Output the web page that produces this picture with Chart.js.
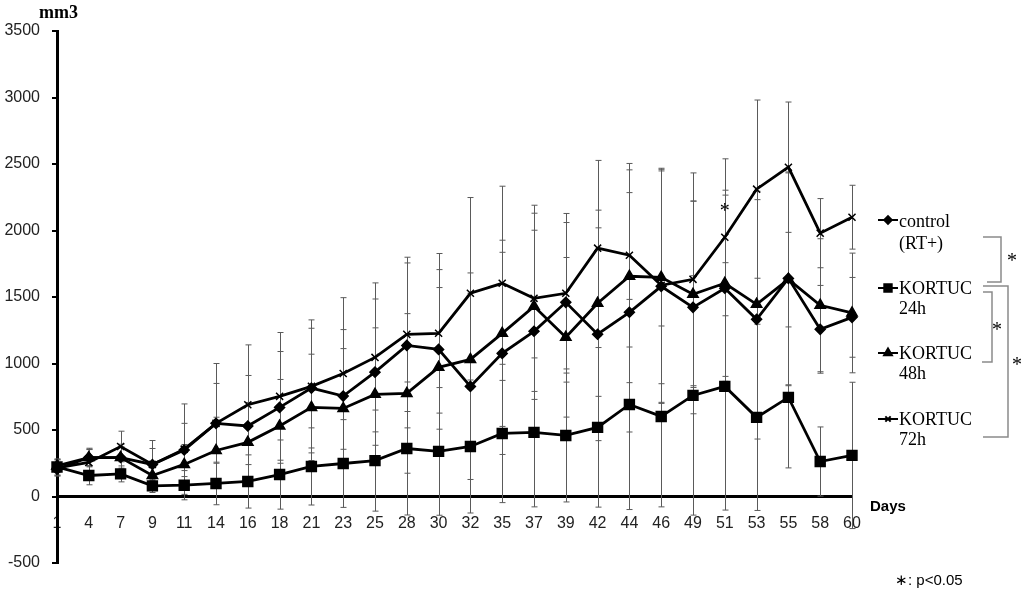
<!DOCTYPE html>
<html>
<head>
<meta charset="utf-8">
<script src="https://cdn.jsdelivr.net/npm/chart.js@4.4.1/dist/chart.umd.min.js"></script>
<style>
  html, body { margin: 0; padding: 0; background: #fff; }
  #wrap { width: 1024px; height: 592px; }
</style>
</head>
<body>
<div id="wrap"><canvas id="tumorChart"></canvas></div>
<script>
// days after treatment (category axis)
const days = ['1', '4', '7', '9', '11', '14', '16', '18', '21', '23', '25', '28', '30', '32', '35', '37', '39', '42', '44', '46', '49', '51', '53', '55', '58', '60'];

// mean tumour volume, mm3
const controlMean = [205, 293, 293, 241, 350, 550, 530, 670, 815, 755, 935, 1136, 1106, 828, 1076, 1242, 1460, 1220, 1385, 1580, 1422, 1566, 1332, 1640, 1257, 1347];
const k24Mean = [222, 158, 170, 80, 85, 98, 113, 165, 226, 248, 270, 361, 339, 376, 474, 482, 459, 520, 692, 602, 760, 828, 595, 745, 263, 309];
const k48Mean = [230, 293, 293, 158, 241, 346, 407, 530, 670, 662, 768, 775, 971, 1031, 1227, 1430, 1197, 1453, 1656, 1648, 1520, 1603, 1445, 1633, 1438, 1380];
const k72Mean = [215, 256, 376, 241, 356, 550, 690, 753, 828, 925, 1046, 1219, 1227, 1528, 1603, 1490, 1528, 1867, 1814, 1588, 1633, 1949, 2311, 2476, 1980, 2100];

// standard deviations (error bars)
const controlSd = [50, 70, 100, 120, 200, 300, 380, 420, 450, 500, 550, 620, 600, 700, 760, 760, 600, 800, 900, 880, 800, 700, 900, 800, 330, 300];
const k24Sd = [60, 70, 60, 50, 110, 160, 200, 260, 290, 330, 380, 500, 480, 500, 520, 560, 500, 600, 790, 680, 900, 930, 700, 530, 260, 550];
const k48Sd = [50, 60, 80, 100, 150, 250, 300, 350, 400, 450, 500, 600, 600, 650, 700, 700, 600, 700, 800, 800, 700, 700, 850, 800, 500, 450];
const k72Sd = [60, 100, 115, 180, 340, 450, 450, 480, 500, 570, 560, 580, 600, 720, 730, 700, 600, 660, 690, 880, 800, 590, 670, 490, 260, 240];

const yTicks = [-500, 0, 500, 1000, 1500, 2000, 2500, 3000, 3500];
const legendLines = [['control', '(RT+)'], ['KORTUC', '24h'], ['KORTUC', '48h'], ['KORTUC', '72h']];
const sigDay = '51';   // asterisk above this day
const sigValue = 2175;

const sansFont = '"Liberation Sans", Arial, sans-serif';
const serifFont = '"Liberation Serif", "Times New Roman", serif';

function makeSet(label, data, sd, style, radius) {
    return {
        label: label,
        data: data,
        sd: sd,
        borderColor: '#000',
        backgroundColor: '#000',
        borderWidth: 2.8,
        pointStyle: style,
        pointRadius: radius,
        pointBorderWidth: 1.5,
        pointBackgroundColor: '#000',
        pointBorderColor: '#000',
        tension: 0,
        fill: false
    };
}

// thin grey SD bars with caps, drawn under the lines
const errorBars = {
    id: 'errorBars',
    beforeDatasetsDraw(chart) {
        const ctx = chart.ctx;
        const xs = chart.scales.x, ys = chart.scales.y;
        ctx.save();
        ctx.strokeStyle = '#5a5a5a';
        ctx.lineWidth = 1;
        chart.data.datasets.forEach(ds => {
            ds.data.forEach((v, i) => {
                const x = Math.round(xs.getPixelForValue(i)) + 0.5;
                const top = ys.getPixelForValue(v + ds.sd[i]);
                const bot = ys.getPixelForValue(v - ds.sd[i]);
                ctx.beginPath();
                ctx.moveTo(x, top); ctx.lineTo(x, bot);
                ctx.moveTo(x - 3, top); ctx.lineTo(x + 3, top);
                ctx.moveTo(x - 3, bot); ctx.lineTo(x + 3, bot);
                ctx.stroke();
            });
        });
        ctx.restore();
    }
};

// axis titles, legend, significance brackets
const extras = {
    id: 'extras',
    afterDraw(chart) {
        const ctx = chart.ctx;
        const xs = chart.scales.x, ys = chart.scales.y;
        ctx.save();
        ctx.fillStyle = '#000';

        ctx.font = 'bold 18px ' + serifFont;
        ctx.textAlign = 'left';
        ctx.textBaseline = 'alphabetic';
        ctx.fillText('mm3', 39, 18);

        ctx.font = 'bold 15px ' + sansFont;
        ctx.fillText('Days', 870, 511);

        // asterisk over day 51
        ctx.font = '20px ' + serifFont;
        ctx.textAlign = 'center';
        ctx.fillText('*', xs.getPixelForValue(days.indexOf(sigDay)), ys.getPixelForValue(sigValue) + 10);

        // legend
        const markY = [220, 288, 353, 419];
        const base1 = [227, 294, 359, 425];
        const base2 = [249, 314, 379, 445];
        chart.data.datasets.forEach((ds, i) => {
            ctx.strokeStyle = '#000';
            ctx.lineWidth = 2;
            ctx.beginPath();
            ctx.moveTo(878, markY[i]); ctx.lineTo(898, markY[i]);
            ctx.stroke();
            ctx.fillStyle = '#000';
            Chart.helpers.drawPoint(ctx, {
                pointStyle: ds.pointStyle, radius: ds.pointRadius * 0.75, borderWidth: 1
            }, 888, markY[i]);
            ctx.font = '18px ' + serifFont;
            ctx.textAlign = 'left';
            ctx.fillText(legendLines[i][0], 899, base1[i]);
            ctx.fillText(legendLines[i][1], 899, base2[i]);
        });

        // brackets
        ctx.strokeStyle = '#8a8a8a';
        ctx.lineWidth = 1.5;
        ctx.beginPath();
        ctx.moveTo(983, 237); ctx.lineTo(1001, 237); ctx.lineTo(1001, 282); ctx.lineTo(987, 282);
        ctx.moveTo(983, 286); ctx.lineTo(1008, 286); ctx.lineTo(1008, 437); ctx.lineTo(983, 437);
        ctx.moveTo(983, 292); ctx.lineTo(992, 292); ctx.lineTo(992, 362); ctx.lineTo(982, 362);
        ctx.stroke();
        ctx.fillStyle = '#000';
        ctx.font = '20px ' + serifFont;
        ctx.textAlign = 'center';
        ctx.fillText('*', 1012, 267);
        ctx.fillText('*', 997, 336);
        ctx.fillText('*', 1017, 371);

        ctx.font = '15px ' + sansFont;
        ctx.textAlign = 'left';
        ctx.fillText('\u2217: p<0.05', 895, 585);
        ctx.restore();
    }
};

const ctx = document.getElementById('tumorChart').getContext('2d');
window.tumorChart = new Chart(ctx, {
    type: 'line',
    data: {
        labels: days,
        datasets: [
            makeSet('control (RT+)', controlMean, controlSd, 'rectRot', 5),
            makeSet('KORTUC 24h', k24Mean, k24Sd, 'rect', 7),
            makeSet('KORTUC 48h', k48Mean, k48Sd, 'triangle', 6),
            makeSet('KORTUC 72h', k72Mean, k72Sd, 'crossRot', 5)
        ]
    },
    options: {
        responsive: true,
        maintainAspectRatio: false,
        animation: false,
        layout: { padding: { top: 31, right: 172, bottom: 29, left: 0 } },
        plugins: {
            legend: { display: false },
            tooltip: { enabled: false }
        },
        scales: {
            x: {
                type: 'category',
                offset: false,
                position: { y: 0 },
                grid: { display: false, drawTicks: true, tickLength: 8 },
                border: { display: true, color: '#000', width: 3 },
                ticks: {
                    color: '#222',
                    font: { family: sansFont, size: 16 },
                    padding: 9,
                    maxRotation: 0,
                    autoSkip: false
                },
                afterFit: s => { s.height = 0; }
            },
            y: {
                min: -500,
                max: 3500,
                afterBuildTicks: s => { s.ticks = yTicks.map(v => ({ value: v })); },
                grid: { drawOnChartArea: false, drawTicks: true, tickLength: 5, color: '#000', lineWidth: 2 },
                border: { color: '#000', width: 3 },
                ticks: {
                    color: '#222',
                    font: { family: sansFont, size: 16 },
                    padding: 12,
                    callback: v => String(v)
                },
                afterFit: s => { s.width = 57; }
            }
        }
    },
    plugins: [errorBars, extras]
});
</script>
</body>
</html>
